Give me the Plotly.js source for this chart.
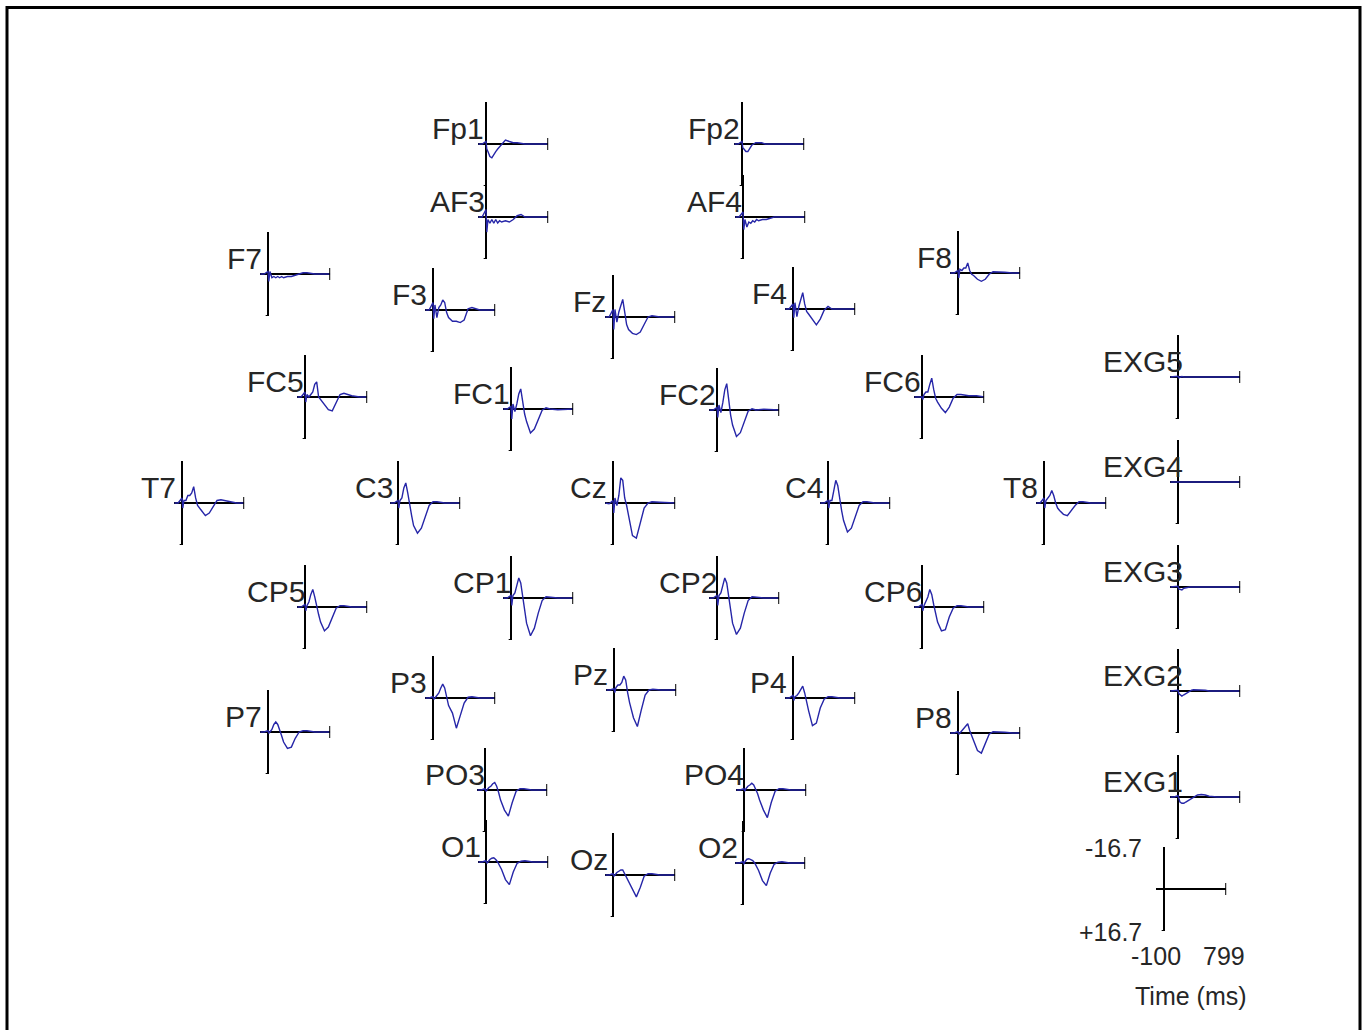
<!DOCTYPE html>
<html><head><meta charset="utf-8">
<script src="https://cdn.plot.ly/plotly-3.0.1.min.js"></script>
<style>html,body{margin:0;padding:0;background:#fff}#chart{width:1367px;height:1030px}</style>
</head><body><div id="chart"></div>
<script>
// time points (ms)
const times = [-100,-50,0,10,25,50,75,100,125,150,175,200,250,300,350,400,450,500,600,700,799];
// ERP amplitudes (µV), negative plotted up
const Fp1  = [0,0,-1,2,3,5,5.5,4,3,2,1,0,-1.6,-1,-0.5,-0.5,-0.3,0,0,0,0];
const Fp2  = [0,0,-1,1.5,2,3,3,1.5,0.5,0,-0.5,-0.5,-0.5,0,0,-0.3,-0.3,0,0,0,0];
const AF3  = [0,0,-3,6,1,2.5,1,2.5,1,2.4,1.5,2,1.5,2,1,-0.5,-1,0,0,0,0];
const AF4  = [0,0,-2,5,1,4,2,2.5,1.5,2,1,1.5,1,1,0.5,0,0,0,0,0,0];
const F7   = [0,0,-1,3,-1,1.5,1,1.5,1,1.5,1,1.5,1,1,0.5,0,-0.5,-0.5,0,0,0];
const F3   = [0,0,-3,3.5,-2,3,-1,-2,-4,-3,1,3,4.5,4.5,5,4,-0.5,-1,0,0,0];
const Fz   = [0,0,-3,5,-3,2,-2,-5,-7,-2,3,5,6.5,7,6,3,0,-0.5,0,0,0];
const F4   = [0,0,-2,3.5,-2.5,3,-1,-4,-6.5,-2,1,2,4,6.3,4,0.5,-1,0,0,0,0];
const F8   = [0,0,-1,2,-1.5,-1,-2,-2,-4,-1,0.5,1,2.5,3.3,2.5,0.5,-0.5,-0.5,-0.3,0,0];
const FC5  = [0,0,-2,2,-1,0,-1,-2,-5,-6,0,1,3,5,5.5,2.5,-1,-1.5,-0.5,0,0];
const FC1  = [0,0,-1,4,-2,1,-2,-6,-8,-3,2,5,9.5,8,4,0.5,-0.5,0,0.3,0,0];
const FC2  = [0,0,-1,3,-2,1,-3,-8,-10.5,-3,2,6,10.5,9,5,0.5,-0.5,0,-0.3,0,0];
const FC6  = [0,0,0,1,-1,-2,-2,-5,-7.5,-3,0.5,2,4.5,6.2,4,0.5,-1,-1,-0.5,-0.5,0];
const T7   = [0,0,-2,2,-1,-1,-3,-3,-4,-6.5,-2,1,3,5,4,1.5,-1,-1.3,-0.5,0,0];
const C3   = [0,0,-1,2,-1,-2,-6,-8,-4,1,5,9,12,10,5,1,-0.5,-0.5,0,0,0];
const Cz   = [0,0.3,-1,4,-2,1,-3,-10,-9,-2,1,5,13,14,8,2,0,-0.5,-0.3,0,0];
const C4   = [0,0,-1,2,-1,-1,-5,-9,-7,-1,3,7,11.5,10,5,1,-0.5,-0.5,0,0,0];
const T8   = [0,0,-2,2,-1,-2,-3,-5,-3,0,2,3,4.5,5,3,1,-0.5,-0.5,0,0,0];
const CP5  = [0,0,-1,1.5,-0.5,-2,-5,-7,-4,0,3,6,9.5,8,4,0.5,-0.5,-0.5,0,0,0];
const CP1  = [0,0,-1,3,-1,-2,-5,-8,-6,0,5,10,15,12,6,1,-0.5,-0.3,0,0,0];
const CP2  = [0,0,-1,3,-1,-2,-5,-8,-6,0,5,10,14.5,12,6,1,-0.5,-0.3,0,0,0];
const CP6  = [0,0,-1,1.5,-0.5,-2,-4,-7,-5,-1,2,6,9.5,9,4,0.5,-0.5,-0.5,0,0,0];
const P7   = [0,0,-0.5,0.5,0,-1,-3,-4,-3,-1,1.5,4,6.5,6,2.5,0,-0.5,-0.5,0,0,0];
const P3   = [0,0,-0.5,0.5,0,-1,-2,-4,-5.5,-4,0,3,6,12,7,2,-0.3,-0.5,0,0,0];
const Pz   = [0,0,-0.5,1,-1,-2,-2,-3,-5.5,-4,1,5,11,14.5,8,2,0,-0.3,0,0,0];
const P4   = [0,0,-1,1,-0.5,-1,-2,-3.5,-4.7,-2,2,5,11,10,4,0.5,-0.5,-0.5,0,0,0];
const P8   = [0,0,-0.5,0.5,0,-1,-2,-3,-3.7,-1,1,3,7,8,4,0.5,-0.5,-0.5,-0.3,0,0];
const PO3  = [0,0,-0.5,0.5,0,-1,-1.5,-2.5,-3,-1.5,1,4,8,10.4,5,0.5,-0.5,-0.5,0,0,0];
const PO4  = [0,0,-0.5,0.5,-0.5,-1.5,-2,-2.7,-2,-0.5,1.5,4,8,11,5,0.5,-0.5,-0.5,0,0,0];
const O1   = [0,0,-0.5,0.5,0,-1,-1.5,-1.7,-1,0,1.5,3,7,9,4,0.5,-0.3,-0.5,0,0,0];
const Oz   = [0,0,-0.5,0.5,0,-1,-1.5,-2,-2,-0.5,1,2.5,6,8.7,5,0.5,-0.5,-0.5,0,0,0];
const O2   = [0,0,-0.5,0.5,-0.5,-1.5,-1.7,-1.5,-1,0,1.5,3,7,9,4,0.5,-0.3,-0.5,0,0,0];
const EXG5 = [0,0,-0.3,0.3,0,-0.2,0,0,-0.2,0,0,0,0,0,0,0,0,0,0,0,0];
const EXG4 = [0,0,0,0.2,0,0,0,0,0,0,0,0,0,0,0,0,0,0,0,0,0];
const EXG3 = [0,0,-0.3,0.8,1,1.2,0.5,0.3,0.2,0,0,0,-0.2,-0.2,0,0,0,0,0,0,0];
const EXG2 = [0,0,-0.3,1,1.5,2,1.5,1,0.5,0,-0.3,-0.5,-0.5,-0.3,-0.3,0,0,0,0,0,0];
const EXG1 = [0,0,-0.5,1,2,2.5,2.5,2,1.5,1,0.5,0,-0.8,-1,-0.8,-0.3,0,0,0,0,0];

const channelNames = ['Fp1','Fp2','AF3','AF4','F7','F3','Fz','F4','F8','FC5','FC1','FC2','FC6',
  'T7','C3','Cz','C4','T8','CP5','CP1','CP2','CP6','P7','P3','Pz','P4','P8','PO3','PO4','O1','Oz','O2',
  'EXG5','EXG4','EXG3','EXG2','EXG1'];
const channelData = {Fp1,Fp2,AF3,AF4,F7,F3,Fz,F4,F8,FC5,FC1,FC2,FC6,T7,C3,Cz,C4,T8,CP5,CP1,CP2,CP6,
  P7,P3,Pz,P4,P8,PO3,PO4,O1,Oz,O2,EXG5,EXG4,EXG3,EXG2,EXG1};

// scale
const XMIN = -100, XMAX = 799, YLIM = 16.7;
const scaleLabels = {top:'-16.7', bottom:'+16.7', left:'-100', right:'799', title:'Time (ms)'};

// layout: pixel position of each channel origin (0 ms, 0 µV)
const W = 1367, H = 1030, PW = 70, PH = 84;
const pos = {
  Fp1:[486,144], Fp2:[742,144], AF3:[486,217], AF4:[743,217],
  F7:[268,274], F3:[433,310], Fz:[613,317], F4:[793,309], F8:[958,273],
  FC5:[305,397], FC1:[511,409], FC2:[717,410], FC6:[922,397],
  T7:[182,503], C3:[398,503], Cz:[613,503], C4:[828,503], T8:[1044,503],
  CP5:[305,607], CP1:[511,598], CP2:[717,598], CP6:[922,607],
  P7:[268,732], P3:[433,698], Pz:[614,690], P4:[793,698], P8:[958,733],
  PO3:[485,790], PO4:[744,790], O1:[486,862], Oz:[613,875], O2:[743,863],
  EXG5:[1178,377], EXG4:[1178,482], EXG3:[1178,587], EXG2:[1178,691], EXG1:[1178,797],
  SCALE:[1164,889]
};

const FONT = 'Liberation Sans, Arial, Helvetica, sans-serif';
const LABEL_SIZE = 30;
// approximate Arial advance widths (per em) to mimic MATLAB label placement
const charW = {F:.611,p:.556,A:.667,E:.667,X:.667,G:.778,C:.722,T:.611,z:.5,P:.667,O:.778};
function textWidth(s, size){ let w=0; for (const c of s) w += (charW[c] || .556); return w*size; }

const traces = [], shapes = [], annotations = [];
const layout = {
  width: W, height: H, margin:{l:0,r:0,t:0,b:0},
  paper_bgcolor:'#fff', plot_bgcolor:'rgba(0,0,0,0)', showlegend:false,
  font:{family:FONT, color:'#1a1a1a'}
};

function addPanel(n, key){
  const [px, py] = pos[key];
  const x0 = px - PW * (0 - XMIN) / (XMAX - XMIN);
  const xs = n === 1 ? '' : String(n);
  const xr = 'x' + xs, yr = 'y' + xs;
  layout['xaxis' + xs] = {
    domain:[x0 / W, (x0 + PW) / W], range:[XMIN, XMAX], anchor: yr,
    showgrid:false, showticklabels:false, ticks:'', showline:false,
    zeroline:true, zerolinecolor:'#000', zerolinewidth:2, fixedrange:true
  };
  layout['yaxis' + xs] = {
    domain:[1 - (py + PH / 2) / H, 1 - (py - PH / 2) / H], range:[YLIM, -YLIM], anchor: xr,
    showgrid:false, showticklabels:false, ticks:'', showline:false,
    zeroline:true, zerolinecolor:'#000', zerolinewidth:2, fixedrange:true
  };
  shapes.push({type:'line', xref:xr, yref:yr, x0:XMAX, x1:XMAX, y0:-YLIM*0.14, y1:YLIM*0.14,
    line:{color:'#000', width:2}});
  shapes.push({type:'line', xref:xr, yref:yr, x0:XMIN*0.3, x1:0, y0:YLIM, y1:YLIM,
    line:{color:'#000', width:2}});
  return {xr, yr};
}

channelNames.forEach((name, i) => {
  const n = i + 1;
  const {xr, yr} = addPanel(n, name);
  traces.push({type:'scatter', mode:'lines', x:times, y:channelData[name], xaxis:xr, yaxis:yr,
    line:{color:'#2626a8', width:1.4}, hoverinfo:'skip'});
  const w = textWidth(name, LABEL_SIZE);
  annotations.push({xref:xr, yref:yr, x:0, y:0, text:name, showarrow:false,
    xanchor:'right', yanchor:'bottom', xshift:-4 + 0.255*(w - 36), yshift:-3,
    font:{family:FONT, size:LABEL_SIZE, color:'#262626'}});
});

// scale panel
{
  const n = channelNames.length + 1;
  const {xr, yr} = addPanel(n, 'SCALE');
  traces.push({type:'scatter', mode:'lines', x:[], y:[], xaxis:xr, yaxis:yr, hoverinfo:'skip'});
  const f = {family:FONT, size:25, color:'#262626'};
  const xd = xr + ' domain', yd = yr + ' domain';
  annotations.push({xref:xd, yref:yd, x:0, y:1, text:scaleLabels.top, showarrow:false,
    xanchor:'right', yanchor:'middle', xshift:-12, yshift:-1, font:f});
  annotations.push({xref:xd, yref:yd, x:0, y:0, text:scaleLabels.bottom, showarrow:false,
    xanchor:'right', yanchor:'middle', xshift:-12, yshift:-1, font:f});
  annotations.push({xref:xd, yref:yd, x:0, y:0, text:scaleLabels.left, showarrow:false,
    xanchor:'center', yanchor:'top', xshift:0, yshift:-9, font:f});
  annotations.push({xref:xd, yref:yd, x:1, y:0, text:scaleLabels.right, showarrow:false,
    xanchor:'center', yanchor:'top', xshift:-2, yshift:-9, font:f});
  annotations.push({xref:xd, yref:yd, x:0.5, y:0, text:scaleLabels.title, showarrow:false,
    xanchor:'center', yanchor:'top', xshift:0, yshift:-49, font:f});
}

// outer frame
shapes.push({type:'rect', xref:'paper', yref:'paper', x0:7/W, x1:1360/W, y0:-0.02, y1:1-7.5/H,
  line:{color:'#000', width:3}, fillcolor:'rgba(0,0,0,0)'});

layout.shapes = shapes;
layout.annotations = annotations;
Plotly.newPlot('chart', traces, layout, {staticPlot:true, displayModeBar:false});
</script>
</body></html>
